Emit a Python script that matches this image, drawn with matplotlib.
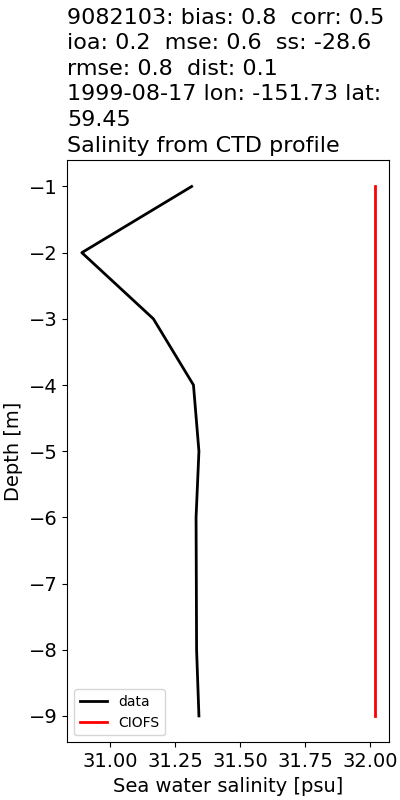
import matplotlib

matplotlib.use("Agg")
import matplotlib.pyplot as plt

# 관측 프로파일 (CTD)
depth = [-1, -2, -3, -4, -5, -6, -7, -8, -9]
salinity_data = [31.313, 30.891, 31.166, 31.320, 31.341, 31.330, 31.331, 31.332, 31.341]
# 모델 (CIOFS)
salinity_model = [32.016, 32.016, 32.016, 32.016, 32.016, 32.016, 32.016, 32.016, 32.016]

title = (
    "9082103: bias: 0.8  corr: 0.5\n"
    "ioa: 0.2  mse: 0.6  ss: -28.6\n"
    "rmse: 0.8  dist: 0.1\n"
    "1999-08-17 lon: -151.73 lat:\n"
    "59.45\n"
    "Salinity from CTD profile"
)

fig, ax = plt.subplots(figsize=(4, 8), dpi=100)
ax.plot(salinity_data, depth, color="k", lw=2, label="data")
ax.plot(salinity_model, depth, color="r", lw=2, label="CIOFS")

ax.set_title(title, loc="left", fontsize=16, linespacing=1.35)
ax.set_xlabel("Sea water salinity [psu]", fontsize=14)
ax.set_ylabel("Depth [m]", fontsize=14)
ax.tick_params(labelsize=14)
ax.legend(loc="lower left", fontsize=10)

fig.subplots_adjust(left=0.168, right=0.973, bottom=0.072, top=0.80)
fig.savefig("out.png")
